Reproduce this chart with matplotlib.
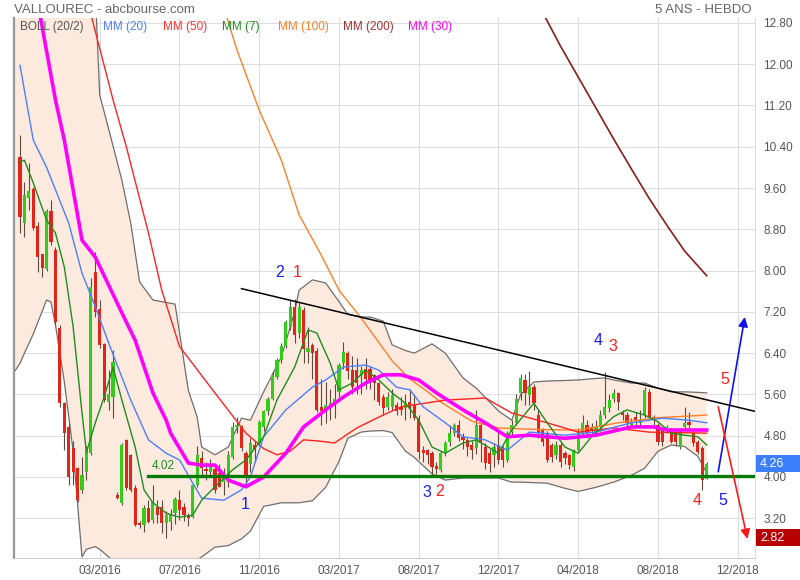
import numpy as np
import matplotlib
matplotlib.use("Agg")
import matplotlib.pyplot as plt
from matplotlib.patches import Rectangle
from matplotlib.transforms import blended_transform_factory

plt.rcParams['font.family'] = ['Liberation Sans', 'DejaVu Sans']

# weekly candles (week 0 = first visible week)
opens = [10.20, 8.92, 9.41, 9.58, 8.86, 8.32, 8.03, 9.16, 8.40, 6.89,
         5.43, 4.97, 4.56, 4.17, 3.75, 4.10, 4.47, 7.97, 7.26, 6.58,
         5.45, 5.55, 3.66, 3.50, 4.72, 4.43, 3.79, 3.10, 3.07, 3.40,
         3.17, 3.42, 3.42, 3.11, 3.13, 3.30, 3.55, 3.42, 3.26, 3.22,
         3.85, 4.37, 4.16, 4.10, 4.15, 4.08, 3.90, 4.00, 4.39, 4.97,
         4.97, 4.46, 4.25, 4.62, 4.66, 4.97, 5.27, 5.52, 5.94, 6.27,
         6.53, 6.91, 7.30, 6.80, 7.24, 6.43, 6.55, 6.45, 5.36, 5.27,
         5.33, 5.43, 5.65, 6.20, 6.40, 6.07, 6.07, 5.98, 6.10, 6.10,
         5.98, 5.82, 5.55, 5.36, 5.36, 5.39, 5.36, 5.33, 5.46, 5.39,
         5.14, 4.52, 4.52, 4.46, 4.22, 4.14, 4.46, 4.68, 4.85, 5.01,
         4.78, 4.72, 4.62, 4.56, 5.01, 4.59, 4.46, 4.43, 4.62, 4.56,
         4.33, 4.88, 5.04, 5.62, 5.88, 5.59, 5.75, 5.20, 4.91, 4.85,
         4.62, 4.43, 4.62, 4.46, 4.43, 4.20, 4.52, 4.85, 5.01, 4.95,
         4.88, 4.97, 5.20, 5.33, 5.52, 5.62, 5.23, 5.20, 5.01, 5.17,
         5.04, 5.20, 5.65, 5.17, 5.01, 4.91, 4.91, 4.91, 4.85, 4.59,
         4.97, 5.07, 4.85, 4.68, 4.56, 3.97]
closes = [9.04, 9.47, 9.54, 8.83, 8.26, 8.05, 9.16, 8.55, 7.00, 5.43,
          4.85, 4.00, 4.10, 3.55, 4.04, 4.52, 7.68, 7.20, 6.56, 5.49,
          5.61, 6.23, 3.60, 4.62, 3.79, 3.75, 3.07, 3.07, 3.40, 3.13,
          3.52, 3.26, 3.11, 3.26, 3.26, 3.57, 3.36, 3.26, 3.20, 3.85,
          4.43, 4.17, 4.12, 4.22, 3.75, 3.81, 4.00, 4.43, 4.97, 5.00,
          4.56, 4.04, 4.65, 4.52, 5.07, 5.27, 5.52, 5.98, 6.27, 6.53,
          7.01, 7.30, 6.75, 7.30, 6.49, 6.50, 6.40, 5.30, 5.27, 5.39,
          5.43, 5.52, 6.17, 6.43, 6.05, 5.75, 5.82, 6.07, 5.90, 5.88,
          5.82, 5.46, 5.33, 5.55, 5.58, 5.27, 5.30, 5.43, 5.33, 5.14,
          4.49, 4.47, 4.43, 4.20, 4.15, 4.46, 4.65, 4.85, 5.01, 4.75,
          4.72, 4.59, 4.52, 5.01, 4.65, 4.27, 4.25, 4.58, 4.33, 4.33,
          4.85, 5.01, 5.52, 5.91, 5.62, 5.75, 5.43, 4.85, 4.68, 4.33,
          4.39, 4.62, 4.30, 4.36, 4.23, 4.52, 4.88, 5.04, 4.85, 4.91,
          4.97, 5.20, 5.36, 5.49, 5.62, 5.46, 5.20, 5.04, 5.07, 5.10,
          5.10, 5.69, 5.17, 5.10, 4.68, 4.68, 4.97, 4.68, 4.68, 4.91,
          5.04, 5.01, 4.65, 4.49, 3.94, 4.26]
highs = [10.63, 9.72, 10.09, 9.62, 8.94, 8.32, 9.20, 9.37, 8.45, 6.95,
         5.45, 5.05, 4.70, 4.20, 4.39, 4.60, 7.86, 8.36, 7.43, 6.60,
         6.07, 6.46, 3.70, 4.66, 4.74, 4.45, 3.85, 3.15, 3.46, 3.55,
         3.85, 3.55, 3.55, 3.35, 3.37, 3.62, 3.75, 3.50, 3.30, 3.86,
         4.60, 4.50, 4.30, 4.35, 4.20, 4.25, 4.18, 4.50, 5.07, 5.16,
         5.00, 4.50, 4.75, 4.70, 5.10, 5.30, 5.55, 6.05, 6.30, 6.60,
         7.05, 7.43, 7.45, 7.40, 7.30, 6.90, 6.60, 6.50, 5.90, 5.85,
         5.70, 5.80, 6.20, 6.62, 6.45, 6.35, 6.30, 6.15, 6.30, 6.15,
         6.00, 5.85, 5.60, 5.65, 5.70, 5.45, 5.55, 5.60, 5.70, 5.60,
         5.20, 4.60, 4.55, 4.50, 4.30, 4.50, 4.70, 5.00, 5.05, 5.10,
         4.85, 4.75, 4.70, 5.30, 5.05, 4.65, 4.55, 4.65, 4.90, 4.60,
         4.90, 5.10, 5.60, 6.00, 6.00, 6.05, 5.80, 5.30, 4.95, 4.90,
         4.65, 4.70, 4.65, 4.50, 4.45, 4.55, 4.95, 5.20, 5.10, 5.05,
         5.10, 5.30, 6.04, 5.60, 5.70, 5.65, 5.30, 5.25, 5.15, 5.25,
         5.30, 5.75, 5.70, 5.20, 5.05, 4.95, 5.00, 4.95, 4.90, 4.95,
         5.35, 5.25, 4.90, 4.72, 4.60, 4.30]
lows = [8.73, 8.65, 9.17, 8.79, 7.97, 7.88, 8.00, 8.50, 6.95, 5.35,
        4.52, 3.85, 3.85, 3.52, 3.69, 3.95, 4.43, 7.10, 6.50, 5.45,
        5.30, 5.14, 3.58, 3.46, 3.75, 3.70, 3.05, 3.02, 2.93, 3.10,
        3.10, 3.10, 2.91, 2.82, 2.98, 3.08, 3.17, 3.15, 3.05, 3.20,
        3.80, 4.00, 3.95, 4.00, 3.69, 3.80, 3.65, 3.80, 4.35, 4.85,
        4.50, 3.85, 4.10, 4.30, 4.60, 4.90, 5.20, 5.50, 5.90, 6.20,
        6.50, 6.85, 6.60, 6.70, 6.20, 6.20, 5.90, 5.25, 5.00, 5.05,
        5.10, 5.15, 5.55, 6.10, 5.90, 5.60, 5.60, 5.60, 5.70, 5.70,
        5.50, 5.40, 5.20, 5.30, 5.30, 5.20, 5.20, 5.10, 5.15, 5.10,
        4.35, 4.30, 4.25, 4.05, 4.05, 4.10, 4.40, 4.60, 4.80, 4.70,
        4.55, 4.40, 4.35, 4.45, 4.30, 4.15, 4.10, 4.20, 4.25, 4.20,
        4.30, 4.80, 5.00, 5.50, 5.40, 5.40, 5.30, 4.75, 4.60, 4.30,
        4.30, 4.35, 4.20, 4.25, 4.15, 4.12, 4.50, 4.80, 4.75, 4.80,
        4.80, 4.90, 5.15, 5.25, 5.45, 5.30, 5.10, 4.95, 4.95, 5.00,
        4.98, 5.15, 5.10, 5.00, 4.62, 4.60, 4.85, 4.65, 4.60, 4.55,
        4.95, 4.95, 4.60, 4.45, 3.75, 3.97]

# moving averages (week, value)
mm7_weeks = [0, 1, 3, 6, 8, 10, 12, 14, 15, 17, 19, 21, 23, 26, 28, 30, 33, 36, 39, 41,
             44, 48, 51, 55, 58, 62, 65, 67, 70, 72, 75, 78, 81, 84, 87, 90, 93, 96, 100, 103,
             108, 111, 116, 119, 123, 126, 129, 134, 137, 141, 144, 147, 150, 153, 155]
mm7_vals = [10.10, 10.14, 9.70, 8.98, 8.73, 8.07, 6.91, 5.24, 4.48, 5.05, 5.55, 6.13, 5.49, 4.58, 3.75, 3.50, 3.30, 3.22, 3.26, 3.55,
            3.81, 4.14, 4.33, 4.78, 5.49, 6.13, 6.85, 6.79, 6.21, 5.69, 5.82, 6.07, 5.88, 5.63, 5.43, 5.10, 4.58, 4.46, 4.66, 4.72,
            4.46, 4.91, 5.43, 5.05, 4.58, 4.46, 4.78, 5.17, 5.30, 5.20, 5.07, 4.85, 4.81, 4.78, 4.62]
mm20_weeks = [0, 3, 6, 11, 14, 17, 20, 25, 29, 33, 36, 39, 41, 46, 50, 52, 55, 60, 66, 69,
              73, 78, 81, 85, 88, 91, 96, 100, 105, 110, 115, 123, 130, 138, 145, 151, 155]
mm20_vals = [11.98, 10.53, 10.00, 8.92, 7.95, 7.30, 6.60, 5.49, 4.72, 4.46, 4.33, 3.88, 3.59, 3.55, 3.75, 4.00, 4.78, 5.30, 5.74, 5.88,
             6.13, 6.17, 6.07, 5.74, 5.69, 5.36, 5.05, 4.78, 4.72, 4.52, 4.87, 4.81, 4.87, 5.05, 5.14, 5.10, 5.05]
mm30_weeks = [4, 8, 10, 14, 17, 23, 26, 30, 33, 34, 38, 41, 44, 47, 51, 55, 60, 64, 69, 73,
              78, 82, 86, 90, 94, 100, 105, 110, 115, 123, 130, 138, 143, 146, 155]
mm30_vals = [13.20, 11.31, 10.53, 8.59, 8.26, 7.18, 6.65, 5.63, 5.10, 4.85, 4.27, 4.23, 4.23, 3.94, 3.81, 4.00, 4.46, 4.97, 5.30, 5.55,
             5.82, 5.98, 5.98, 5.88, 5.63, 5.30, 5.05, 4.78, 4.81, 4.75, 4.81, 4.97, 4.97, 4.91, 4.91]
mm50_weeks = [15, 21, 24, 29, 32, 36, 44, 51, 55, 58, 61, 64, 67, 71, 76, 81, 86, 96, 105, 111,
              119, 126, 134, 142, 155]
mm50_vals = [13.30, 11.31, 10.40, 8.73, 7.62, 6.53, 5.63, 4.85, 4.55, 4.43, 4.50, 4.72, 4.70, 4.66, 4.95, 5.16, 5.36, 5.49, 5.53, 5.24,
             5.05, 4.87, 4.95, 4.87, 4.85]
mm100_weeks = [46, 49, 54, 59, 63, 68, 72, 77, 84, 88, 92, 95, 102, 108, 117, 126, 135, 144, 155]
mm100_vals = [13.10, 12.27, 11.11, 10.14, 9.08, 8.30, 7.62, 7.08, 6.25, 5.90, 5.65, 5.45, 5.08, 4.95, 4.92, 4.91, 5.05, 5.15, 5.20]
mm200_weeks = [118, 122, 126, 130, 134, 138, 142, 146, 150, 155]
mm200_vals = [13.00, 12.35, 11.75, 11.15, 10.55, 9.97, 9.40, 8.88, 8.38, 7.90]

# bollinger (20/2)
boll_weeks = [-2, 0, 1, 3, 6, 7, 8, 10, 12, 14, 15, 17, 18, 20, 23, 25, 27, 30, 35, 36,
              38, 40, 41, 44, 47, 50, 52, 55, 59, 62, 63, 66, 69, 72, 74, 77, 79, 82, 84, 87,
              89, 93, 96, 100, 103, 108, 111, 113, 116, 119, 123, 126, 130, 132, 134, 138, 141, 144, 147, 150,
              153, 155]
boll_upper = [13.4, 13.4, 13.4, 13.4, 13.4, 13.4, 13.4, 13.4, 13.4, 13.4, 13.4, 13.4, 11.40, 10.75, 9.75, 8.92, 7.78, 7.43, 7.35, 6.80,
              5.68, 5.16, 4.58, 4.43, 4.58, 5.14, 5.10, 5.65, 6.33, 7.20, 7.62, 7.82, 7.76, 7.40, 7.15, 7.10, 7.10, 7.02, 6.56, 6.45,
              6.40, 6.58, 6.40, 5.92, 5.72, 5.28, 5.10, 5.60, 5.84, 5.86, 5.87, 5.88, 5.91, 5.92, 5.88, 5.82, 5.82, 5.72, 5.65, 5.65,
              5.64, 5.63]
boll_lower = [5.95, 6.20, 6.40, 6.77, 7.43, 7.39, 6.95, 5.85, 4.50, 2.45, 2.60, 2.65, 2.60, 2.45, 2.25, 2.18, 2.15, 2.10, 2.18, 2.20,
              2.30, 2.40, 2.45, 2.64, 2.67, 2.80, 2.95, 3.43, 3.50, 3.50, 3.50, 3.54, 3.80, 4.30, 4.75, 4.87, 4.89, 4.90, 4.86, 4.50,
              4.38, 4.06, 3.94, 3.98, 3.98, 3.98, 3.90, 3.90, 3.89, 3.88, 3.78, 3.72, 3.80, 3.85, 3.90, 4.03, 4.17, 4.50, 4.62, 4.59,
              4.40, 4.08]

# drawn annotations
support_level = 4.02
support_weeks = [29, 166]
trend_weeks = [50, 166]
trend_vals = [7.65, 5.27]
up_arrow = [(157.6, 4.10), (163.6, 7.10)]
down_arrow = [(157.6, 5.36), (164.2, 2.80)]
wave_labels = [("2", 58.7, 7.97, "blue"), ("1", 62.5, 7.97, "red"),
               ("1", 50.8, 3.46, "blue"),
               ("3", 91.9, 3.69, "blue"), ("2", 94.8, 3.72, "red"),
               ("4", 130.5, 6.65, "blue"), ("3", 133.9, 6.52, "red"),
               ("5", 159.1, 5.88, "red"),
               ("4", 152.8, 3.55, "red"), ("5", 158.6, 3.55, "blue")]
last_price = 4.26
target_price = 2.82

tick_weeks = [18, 36, 54, 72, 90, 108, 126, 144, 162]
tick_labels = ["03/2016", "07/2016", "11/2016", "03/2017", "08/2017",
               "12/2017", "04/2018", "08/2018", "12/2018"]

fig = plt.figure(figsize=(8, 5.8), dpi=100)
ax = fig.add_axes([14 / 800, 22 / 580, 741 / 800, 540 / 580])
ax.set_xlim(-1.35, 165.9)
ax.set_ylim(2.43, 12.895)

ax.set_yticks(np.arange(3.2, 12.81, 0.8))
ax.yaxis.tick_right()
ax.set_yticklabels(["%.2f" % v for v in np.arange(3.2, 12.81, 0.8)])
ax.set_xticks(tick_weeks)
ax.set_xticklabels(tick_labels)
ax.tick_params(axis="both", length=0, labelsize=8.5, labelcolor="#555555")
ax.tick_params(axis="y", pad=6)
ax.tick_params(axis="x", pad=5)
ax.grid(True, color="#dedede", lw=0.8)
ax.set_axisbelow(True)
ax.spines["top"].set_visible(False)
ax.spines["left"].set_color("#999999")
ax.spines["left"].set_linewidth(1.6)
ax.spines["bottom"].set_color("#cccccc")
ax.spines["right"].set_color("#dddddd")

# bollinger
ax.fill_between(boll_weeks, boll_lower, boll_upper, color="#fdeadf", lw=0, zorder=1)
ax.plot(boll_weeks, boll_upper, color="#6e6e6e", lw=0.9, zorder=2)
ax.plot(boll_weeks, boll_lower, color="#6e6e6e", lw=0.9, zorder=2)

# candles
weeks = np.arange(len(closes))
o = np.array(opens)
c = np.array(closes)
cols = np.where(c >= o, "#33cc1a", "#e0261a")
body_lo = np.minimum(o, c)
body_h = np.maximum(np.abs(c - o), 0.04)
ax.vlines(weeks, lows, highs, color="#5e4a40", lw=0.8, zorder=2.5)
ax.bar(weeks, body_h, bottom=body_lo, width=0.72, color=cols, lw=0, zorder=3)

# moving averages
ax.plot(mm200_weeks, mm200_vals, color="#8b1c1c", lw=1.2, zorder=4)
ax.plot(mm100_weeks, mm100_vals, color="#ff7f27", lw=1.0, zorder=4)
ax.plot(mm50_weeks, mm50_vals, color="#ff2222", lw=1.0, zorder=4)
ax.plot(mm20_weeks, mm20_vals, color="#4d7eff", lw=1.0, zorder=4)
ax.plot(mm7_weeks, mm7_vals, color="#1f8c1f", lw=1.0, zorder=4)
ax.plot(mm30_weeks, mm30_vals, color="#ff00ff", lw=2.6, zorder=4.5)

# support / trend / arrows
ax.plot(support_weeks, [support_level, support_level], color="#077a07", lw=2.4, zorder=6)
ax.text(29.8, support_level + 0.07, "%.2f" % support_level, color="#1f8c1f", fontsize=8.5, va="bottom", zorder=6)
ax.plot(trend_weeks, trend_vals, color="black", lw=1.1, zorder=6)
ax.annotate("", xy=up_arrow[1], xytext=up_arrow[0],
            arrowprops=dict(arrowstyle="-|>", color="#1010ee", lw=1.2, mutation_scale=14, shrinkA=0, shrinkB=0),
            zorder=7, annotation_clip=False)
ax.annotate("", xy=down_arrow[1], xytext=down_arrow[0],
            arrowprops=dict(arrowstyle="-|>", color="#ff1a1a", lw=1.2, mutation_scale=14, shrinkA=0, shrinkB=0),
            zorder=7, annotation_clip=False)
for txt, wx, wy, col in wave_labels:
    ax.text(wx, wy, txt, color="#1a1aff" if col == "blue" else "#ff2020", fontsize=11.5,
            ha="center", va="center", zorder=7)

# price boxes on the right axis
tr = blended_transform_factory(ax.transAxes, ax.transData)
box_h = 17 / 51.6
for price, col in [(last_price, "#3d7eff"), (target_price, "#b80000")]:
    ax.add_patch(Rectangle((1.001, price - box_h / 2), 0.06, box_h, transform=tr, fc=col, ec="none",
                           clip_on=False, zorder=10))
    ax.text(1.007, price, "%.2f" % price, transform=tr, color="white", fontsize=9, va="center",
            clip_on=False, zorder=11)

# header and legend
fig.text(14 / 800, 1 - 10 / 580, "VALLOUREC - abcbourse.com", color="#666666", fontsize=9.5, va="center")
fig.text(752 / 800, 1 - 10 / 580, "5 ANS - HEBDO", color="#666666", fontsize=9.5, va="center", ha="right")
legend_items = [("BOLL (20/2)", 20, "#555555"), ("MM (20)", 103, "#4d7eff"), ("MM (50)", 163, "#ff3333"),
                ("MM (7)", 222, "#1f8c1f"), ("MM (100)", 278, "#ff7f27"), ("MM (200)", 343, "#a03030"),
                ("MM (30)", 408, "#ff00ff")]
for name, px, col in legend_items:
    fig.text(px / 800, 1 - 27 / 580, name, color=col, fontsize=8.5, va="center")

fig.savefig("out.png", dpi=100)
